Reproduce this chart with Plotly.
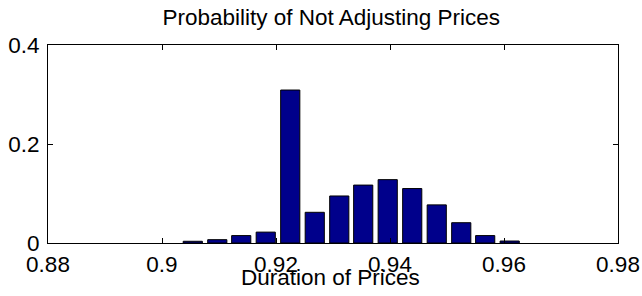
import plotly.graph_objects as go

# Data
durations = [0.9054, 0.9097, 0.9139, 0.9182, 0.9225, 0.9268, 0.9311,
             0.9353, 0.9396, 0.9439, 0.9482, 0.9525, 0.9567, 0.9610]
probabilities = [0.0035, 0.0067, 0.015, 0.022, 0.309, 0.062, 0.095,
                 0.117, 0.128, 0.110, 0.077, 0.041, 0.015, 0.004]
x_ticks = [0.88, 0.90, 0.92, 0.94, 0.96, 0.98]
x_tick_labels = ["0.88", "0.9", "0.92", "0.94", "0.96", "0.98"]
y_ticks = [0, 0.2, 0.4]
y_tick_labels = ["0", "0.2", "0.4"]

FONT = "Liberation Sans, Arial, sans-serif"
FS = 22.5

fig = go.Figure(go.Bar(
    x=durations, y=probabilities,
    marker=dict(color="#00008B", line=dict(color="black", width=1)),
))

axis_common = dict(
    showline=True, linecolor="black", linewidth=1, mirror="ticks",
    ticks="inside", ticklen=5, tickcolor="black", tickwidth=1,
    showgrid=False, zeroline=False, automargin=False,
    tickfont=dict(family=FONT, size=FS, color="black"),
)

fig.update_layout(
    template="none",
    width=642, height=296,
    margin=dict(l=48, r=24, t=45, b=53, pad=0),
    paper_bgcolor="white", plot_bgcolor="white",
    bargap=0.2, showlegend=False,
    title=dict(text="Probability of Not Adjusting Prices",
               font=dict(family=FONT, size=FS, color="black"),
               x=0.516, xanchor="center", y=1 - 17 / 296, yanchor="middle",
               yref="container", automargin=False),
    xaxis=dict(range=[0.88, 0.98], tickvals=x_ticks, ticktext=x_tick_labels,
               ticklabelstandoff=1, **axis_common),
    yaxis=dict(range=[0, 0.4], tickvals=y_ticks, ticktext=y_tick_labels,
               ticklabelstandoff=3, **axis_common),
    annotations=[dict(text="Duration of Prices", xref="paper", yref="paper",
                      x=0.495, y=-0.176, xanchor="center", yanchor="middle",
                      showarrow=False,
                      font=dict(family=FONT, size=FS, color="black"))],
)

fig.write_html("out.html", config={"displayModeBar": False},
               post_script="document.body.style.margin='0px';")
